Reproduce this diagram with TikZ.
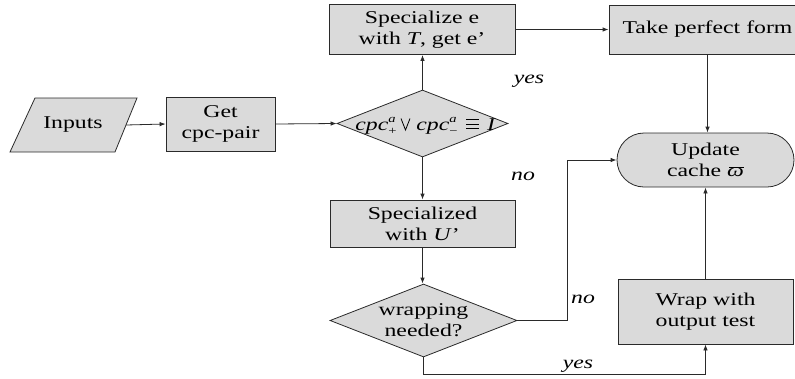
\documentclass[tikz,border=0pt]{standalone}
\usepackage{fontspec}
\setmainfont{Liberation Serif}
\usetikzlibrary{shapes.geometric,arrows.meta}
\newcommand\supsub[2]{\makebox[0pt][l]{\raisebox{8pt}{\fontsize{11}{11}\selectfont\itshape #1}}\raisebox{-4pt}{\fontsize{11}{11}\selectfont\upshape #2}}
\newcommand\vpi{\makebox[0pt][l]{\hspace{1.5pt}\raisebox{8.6pt}{\rule{11pt}{0.9pt}}}{\itshape ω}}
\begin{document}
\begin{tikzpicture}[x=1pt,y=-1pt,
  txt/.style={font=\fontsize{18}{21}\selectfont, align=center, inner sep=0pt, xscale=1.32, transform shape},
  proc/.style={draw={rgb,255:red,42;green,42;blue,42}, fill={rgb,255:red,218;green,218;blue,218}, line width=0.8pt, inner sep=0pt},
  dia/.style={proc, diamond},
  symb/.style={draw=black, line width=0.8pt},
  arr/.style={draw={rgb,255:red,42;green,42;blue,42}, line width=0.8pt, -{Latex[length=6pt,width=4.5pt]}},
  lbl/.style={txt, font=\fontsize{18}{21}\selectfont\itshape}]
\useasboundingbox (0,0) rectangle (795,378);
% Inputs parallelogram
\draw[proc] (35,98) -- (137,98) -- (115,152) -- (10,152) -- cycle;
\coordinate (inc) at (73,125);
\coordinate (inr) at (126,125);
\node[txt] (in) at (inc) {Inputs};
% shapes
\node[proc, minimum width=109pt, minimum height=54pt] (gc) at (220.5,124) {};
\node[dia, minimum width=171pt, minimum height=67pt] (d1) at (422.5,123.5) {};
\node[proc, minimum width=186pt, minimum height=50pt] (t1) at (422,29.5) {};
\node[proc, minimum width=197pt, minimum height=49pt] (t2) at (707.5,29.5) {};
\node[proc, rounded corners=27pt, minimum width=177pt, minimum height=54pt] (up) at (705.5,160) {};
\node[proc, minimum width=185pt, minimum height=47pt] (su) at (422.5,223.5) {};
\node[dia, minimum width=187pt, minimum height=73pt] (d2) at (423.5,320.5) {};
\node[proc, minimum width=175pt, minimum height=65pt] (wr) at (705.5,311.5) {};
% texts
\node[txt] (gct) at (gc) {Get\\cpc-pair};
% formula in diamond 1
\coordinate (fac) at (376,130);
\coordinate (fbc) at (437,130);
\coordinate (fcc) at (491,130);
\node[txt, anchor=base] (fa) at (fac) {\itshape cpc\supsub{a}{+}};
\node[txt, anchor=base] (fb) at (fbc) {\itshape cpc\supsub{a}{−}};
\node[txt, anchor=base] (fc) at (fcc) {\itshape I};
\draw[symb] (401,118.5) -- (405.5,130) -- (410,118.5);
\draw[symb] (466,119.5) -- (479,119.5) (466,124) -- (479,124) (466,128.5) -- (479,128.5);
\node[txt] (t1t) at (t1) {Specialize e\\with \textit{T}, get e'};
\node[txt] (t2t) at (t2) {Take perfect form};
\node[txt] (upt) at (up) {Update\\cache \vpi};
\node[txt] (sut) at (su) {Specialized\\with \textit{U}'};
\node[txt] (d2t) at (d2) {wrapping\\needed?};
\node[txt] (wrt) at (wr) {Wrap with\\output test};
% labels
\coordinate (ly1) at (529,81);
\coordinate (ln1) at (523,176);
\coordinate (ln2) at (583,299);
\coordinate (ly2) at (578,366);
\node[lbl] at (ly1) {yes};
\node[lbl] at (ln1) {no};
\node[lbl] at (ln2) {no};
\node[lbl] at (ly2) {yes};
% connectors
\draw[arr] (inr) -- (gc.west);
\draw[arr] (gc.east) -- (d1.west);
\draw[arr] (d1.north) -- (d1.north |- t1.south);
\draw[arr] (t1.east) -- (t2.west);
\draw[arr] (t2.south) -- (t2.south |- up.north);
\draw[arr] (d1.south) -- (d1.south |- su.north);
\draw[arr] (su.south) -- (su.south |- d2.north);
\draw[arr] (d2.east) -- ++(50,0) |- (up.west);
\draw[arr] (d2.south) -- ++(0,17) -| (wr.south);
\draw[arr] (wr.north) -- (up.south);
\end{tikzpicture}
\end{document}
